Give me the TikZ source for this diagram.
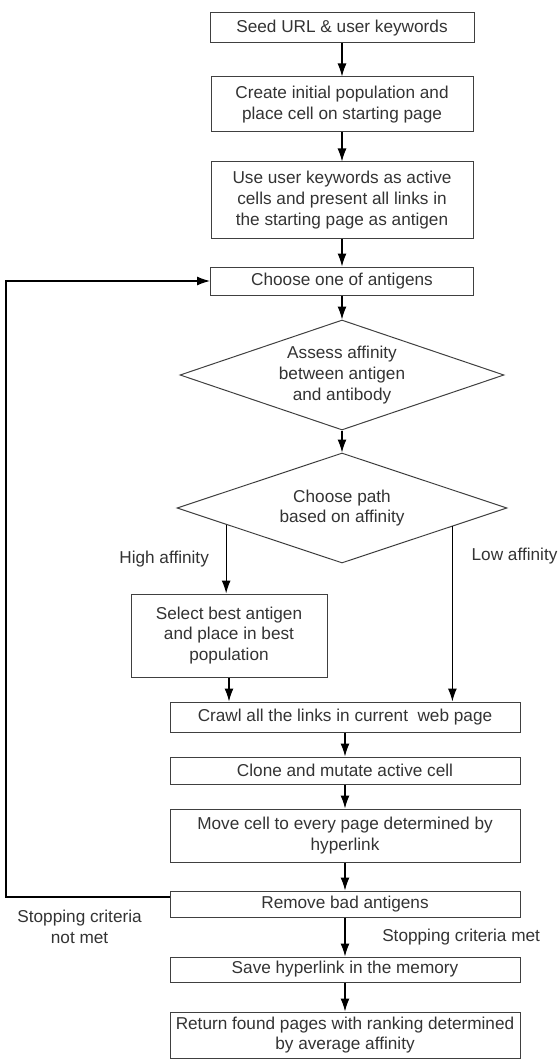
\documentclass[tikz,border=0pt]{standalone}
\usepackage{fontspec}
\setmainfont{Liberation Sans}
\usetikzlibrary{shapes.geometric,arrows.meta,calc}
\begin{document}
\begin{tikzpicture}[x=0.5pt,y=-0.5pt,font=\fontsize{8.6}{10.3}\selectfont,text=black!80]
\tikzstyle{arrow}=[draw,line width=0.6pt,-{Latex[length=6.5pt,width=4.5pt]}]
\tikzstyle{line}=[draw,line width=0.6pt]
\tikzstyle{block}=[draw=black!75,line width=0.5pt,align=center,inner sep=2pt]
\tikzstyle{decision}=[draw=black!75,line width=0.5pt,diamond,aspect=3,inner sep=0pt,align=center]
\useasboundingbox(0,0)rectangle(559,1064);
% main column
\node[block,minimum width=132pt,minimum height=15pt](seed)at(342,28){Seed URL \& user keywords};
\node[block,minimum width=131pt,minimum height=27.5pt](create)at(342,104.5){Create initial population and\\place cell on starting page};
\node[block,minimum width=131pt,minimum height=38pt](use)at(342,200){Use user keywords as active\\cells and present all links in\\the starting page as antigen};
\node[block,minimum width=131.5pt,minimum height=14pt](choose)at(342,281){Choose one of antigens};
\node[decision,minimum width=162pt,minimum height=55pt](assess)at(342,375){Assess affinity\\between antigen\\and antibody};
\node[decision,minimum width=165pt,minimum height=55pt](path)at(342,508){Choose path\\based on affinity};
\node[block,minimum width=98pt,minimum height=41.5pt](select)at(229,635.5){Select best antigen\\and place in best\\population};
\node[block,minimum width=175pt,minimum height=15pt](crawl)at(345,717){Crawl all the links in current\ \ web page};
\node[block,minimum width=175pt,minimum height=13.5pt](clone)at(345,770.5){Clone and mutate active cell};
\node[block,minimum width=175pt,minimum height=26.5pt](move)at(345,835.5){Move cell to every page determined by\\hyperlink};
\node[block,minimum width=175pt,minimum height=13pt](remove)at(345,904){Remove bad antigens};
\node[block,minimum width=175pt,minimum height=12.5pt](save)at(345,969.5){Save hyperlink in the memory};
\node[block,minimum width=175pt,minimum height=23pt](return)at(345,1035){Return found pages with ranking determined\\by average affinity};
% branch points and loop corner
\coordinate(hi)at($(path.west)!0.3!(path.south)$);
\coordinate(lo)at($(path.east)!0.333!(path.south)$);
\coordinate(back)at([yshift=3.5pt]remove.west);
\coordinate(loop)at(6,0);
% connectors
\path[arrow](seed)--(create);
\path[arrow](create)--(use);
\path[arrow](use)--(choose);
\path[arrow](choose)--(assess);
\path[arrow](assess)--(path);
\path[arrow](hi)--(hi|-select.north)node[left=5pt,midway]{High affinity};
\path[arrow](lo)--(lo|-crawl.north)node[right=6pt,pos=0.17]{Low affinity};
\path[arrow](select.south)--(select.south|-crawl.north);
\path[arrow](crawl)--(clone);
\path[arrow](clone)--(move);
\path[arrow](move)--(remove);
\path[arrow](remove)--(save)node[right=15pt,midway]{Stopping criteria met};
\path[arrow](save)--(return);
\path[arrow](back)--(back-|loop)node[below=3pt,pos=0.55,align=center]{Stopping criteria\\not met}|-(choose.west);
\end{tikzpicture}
\end{document}
